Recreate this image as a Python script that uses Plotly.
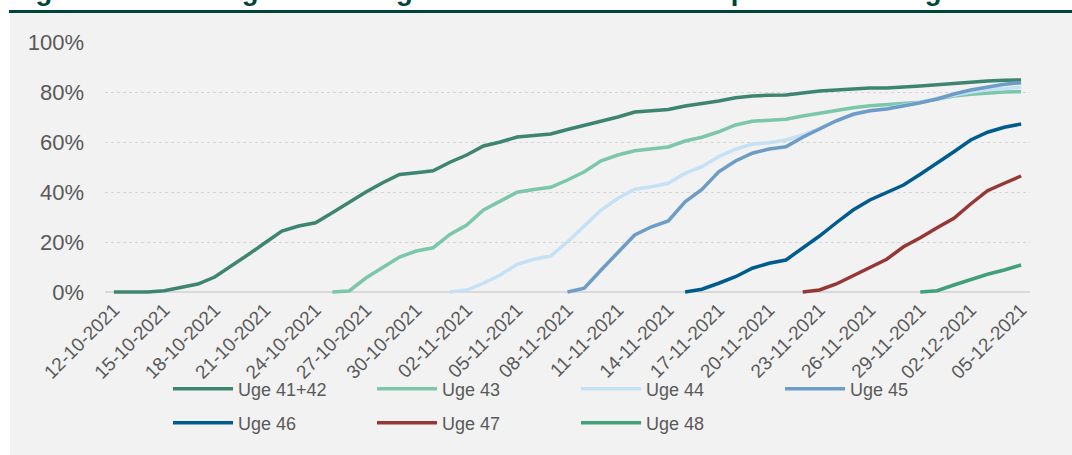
import plotly.graph_objects as go
import pandas as pd

# daily dates 12-10-2021 .. 05-12-2021
dates = pd.date_range("2021-10-12", "2021-12-05", freq="D")
tick_dates = dates[::3]
tick_labels = [d.strftime("%d-%m-%Y") for d in tick_dates]

N = None
# share of invited who got revaccinated (fraction), one value per day
uge_41_42 = [0, 0, 0, 0.005, 0.02, 0.032, 0.06, 0.104, 0.15, 0.197, 0.244, 0.264, 0.277, 0.317,
             0.36, 0.40, 0.437, 0.47, 0.477, 0.485, 0.519, 0.548, 0.584, 0.60, 0.62, 0.626, 0.632,
             0.65, 0.666, 0.685, 0.70, 0.72, 0.726, 0.73, 0.744, 0.753, 0.764, 0.777, 0.784, 0.787,
             0.788, 0.796, 0.804, 0.808, 0.812, 0.816, 0.816, 0.819, 0.824, 0.829, 0.835, 0.84,
             0.844, 0.847, 0.848]
uge_43 = [N] * 13 + [0, 0.004, 0.056, 0.10, 0.14, 0.164, 0.177, 0.23, 0.268, 0.328, 0.364, 0.399,
                     0.41, 0.419, 0.448, 0.481, 0.525, 0.548, 0.565, 0.572, 0.58, 0.604, 0.619,
                     0.641, 0.668, 0.683, 0.688, 0.691, 0.704, 0.716, 0.728, 0.737, 0.745, 0.749,
                     0.752, 0.759, 0.772, 0.784, 0.791, 0.797, 0.80, 0.801]
uge_44 = [N] * 20 + [0, 0.008, 0.035, 0.068, 0.111, 0.131, 0.144, 0.201, 0.264, 0.328, 0.375,
                     0.411, 0.421, 0.435, 0.475, 0.501, 0.541, 0.571, 0.592, 0.597, 0.608, 0.628,
                     0.655, 0.685, 0.71, 0.726, 0.734, 0.745, 0.759, 0.775, 0.788, 0.80, 0.809,
                     0.815, 0.819]
uge_45 = [N] * 27 + [0, 0.015, 0.088, 0.159, 0.228, 0.261, 0.284, 0.361, 0.41, 0.481, 0.524,
                     0.555, 0.572, 0.581, 0.619, 0.652, 0.685, 0.711, 0.725, 0.732, 0.744, 0.757,
                     0.772, 0.792, 0.808, 0.821, 0.831, 0.837]
uge_46 = [N] * 34 + [0, 0.011, 0.035, 0.061, 0.095, 0.115, 0.128, 0.175, 0.224, 0.277, 0.328,
                     0.368, 0.399, 0.428, 0.471, 0.515, 0.561, 0.608, 0.639, 0.659, 0.672]
uge_47 = [N] * 41 + [0, 0.008, 0.032, 0.064, 0.099, 0.131, 0.181, 0.217, 0.257, 0.295, 0.352,
                     0.405, 0.435, 0.464]
uge_48 = [N] * 48 + [0, 0.005, 0.028, 0.051, 0.071, 0.088, 0.108]

series = [
    ("Uge 41+42", uge_41_42, "#3d8570", "legend"),
    ("Uge 43", uge_43, "#7cc6aa", "legend"),
    ("Uge 44", uge_44, "#c5e1f5", "legend"),
    ("Uge 45", uge_45, "#6d9cc6", "legend"),
    ("Uge 46", uge_46, "#005b8f", "legend2"),
    ("Uge 47", uge_47, "#953735", "legend2"),
    ("Uge 48", uge_48, "#40a07a", "legend2"),
]

fig = go.Figure()
for name, vals, color, leg in series:
    fig.add_trace(go.Scatter(x=dates, y=vals, name=name, mode="lines",
                             line=dict(color=color, width=3.5), legend=leg))

W, H = 1072, 455
L, R, T, B = 105, 42, 42, 158
pw, ph = W - L - R, H - T - B


def px_x(p):
    return (p - L) / pw


def px_y(p):
    return 1 - (p - T) / ph


font = "Liberation Sans, Arial, sans-serif"
grey = "#595959"
legend_style = dict(orientation="h", xref="container", yref="container", xanchor="left",
                    yanchor="middle", entrywidth=129, entrywidthmode="pixels", itemwidth=60,
                    bgcolor="rgba(0,0,0,0)", font=dict(family=font, size=18, color=grey),
                    traceorder="normal")

fig.update_layout(
    width=W, height=H,
    margin=dict(l=L, r=R, t=T, b=B, autoexpand=False),
    paper_bgcolor="white",
    plot_bgcolor="rgba(0,0,0,0)",
    font=dict(family=font, color=grey),
    legend=dict(x=168 / W, y=1 - 389 / H, **legend_style),
    legend2=dict(x=168 / W, y=1 - 423 / H, **legend_style),
    xaxis=dict(type="date", range=["2021-10-11 11:17", "2021-12-05 12:43"],
               tickvals=tick_dates, ticktext=tick_labels, tickangle=-45,
               tickfont=dict(size=19, color=grey), showgrid=False, showline=False,
               ticks="", ticklabelstandoff=-3, automargin=False),
    yaxis=dict(range=[-0.02, 1.0], tickvals=[0, 0.2, 0.4, 0.6, 0.8, 1.0],
               tickformat=".0%", tickfont=dict(size=22, color=grey),
               showgrid=True, gridcolor="#d6d6d6", griddash="dot", gridwidth=1,
               zeroline=True, zerolinecolor="#d9d9d9", zerolinewidth=1.5,
               showline=False, ticks="", ticklabelstandoff=20, automargin=False),
    shapes=[
        dict(type="rect", xref="paper", yref="paper", layer="below", line_width=0,
             x0=px_x(10), x1=px_x(1080), y0=px_y(470), y1=px_y(13), fillcolor="#f2f2f2"),
        dict(type="rect", xref="paper", yref="paper", layer="below", line_width=0,
             x0=px_x(9), x1=px_x(1080), y0=px_y(13), y1=px_y(10), fillcolor="#00443a"),
    ],
    annotations=[
        dict(text="<b>Figur 22: Udvikling i tilslutning til revaccination fordelt på invitationsuge</b>",
             xref="paper", yref="paper", x=px_x(10), y=px_y(7.5), xanchor="left", yanchor="bottom",
             showarrow=False, borderpad=0,
             font=dict(family=font, size=27.5, color="#00443a")),
    ],
)

# drop the page's default body margin so the figure sits at the window's top-left
fig.write_html("out.html", config={"displayModeBar": False},
               post_script="document.body.style.margin='0px';")
